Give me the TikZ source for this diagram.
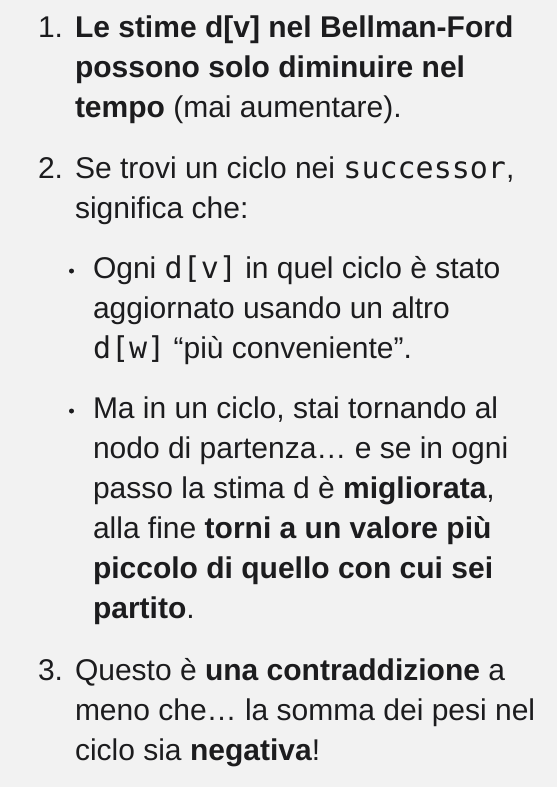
\documentclass[tikz,border=0pt]{standalone}
\usepackage{fontspec}
\setmainfont{Liberation Sans}
\newfontfamily\monof{DejaVu Sans Mono}[Scale=1.0]
\definecolor{bgc}{HTML}{F2F2F2}
\definecolor{txt}{HTML}{1C1C1E}
\newcommand{\mono}[1]{{\monof #1}}
\tikzset{
  ln/.style={anchor=base west, inner sep=0pt, outer sep=0pt, text=txt, font=\fontsize{30}{40}\selectfont},
  num/.style={ln},
  dotmark/.style={circle, fill=txt, inner sep=0pt, minimum size=5pt},
}
\begin{document}
\begin{tikzpicture}[x=1pt,y=-1pt]
\fill[bgc] (0,0) rectangle (557,787);
\useasboundingbox (0,0) rectangle (557,787);
\def\xa{38}\def\xb{75}\def\xc{93}
% item 1
\node[num] (n1) at (\xa,37) {1.};
\node[ln] (a1) at (\xb,37) {\textbf{Le stime d[v] nel Bellman-Ford}};
\node[ln] (a2) at (\xb,77) {\textbf{possono solo diminuire nel}};
\node[ln] (a3) at (\xb,117) {\textbf{tempo} (mai aumentare).};
% item 2
\node[num] (n2) at (\xa,178) {2.};
\node[ln] (b1) at (\xb,178) {Se trovi un ciclo nei \mono{successor},};
\node[ln] (b2) at (\xb,218) {significa che:};
% bullet 1
\node[dotmark] (d1) at (71.5,271) {};
\node[ln] (c1) at (\xc,278) {Ogni \mono{d[v]} in quel ciclo è stato};
\node[ln] (c2) at (\xc,318) {aggiornato usando un altro};
\node[ln] (c3) at (\xc,358) {\mono{d[w]} “più conveniente”.};
% bullet 2
\node[dotmark] (d2) at (71.5,411) {};
\node[ln] (e1) at (\xc,418) {Ma in un ciclo, stai tornando al};
\node[ln] (e2) at (\xc,458) {nodo di partenza… e se in ogni};
\node[ln] (e3) at (\xc,498) {passo la stima d è \textbf{migliorata},};
\node[ln] (e4) at (\xc,538) {alla fine \textbf{torni a un valore più}};
\node[ln] (e5) at (\xc,578) {\textbf{piccolo di quello con cui sei}};
\node[ln] (e6) at (\xc,618) {\textbf{partito}.};
% item 3
\node[num] (n3) at (\xa,680) {3.};
\node[ln] (f1) at (\xb,680) {Questo è \textbf{una contraddizione} a};
\node[ln] (f2) at (\xb,720) {meno che… la somma dei pesi nel};
\node[ln] (f3) at (\xb,760) {ciclo sia \textbf{negativa}!};
\end{tikzpicture}
\end{document}
